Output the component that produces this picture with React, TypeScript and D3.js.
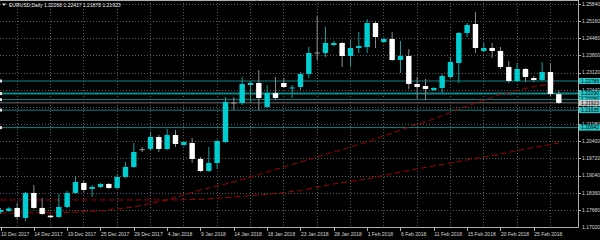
import React from "react";
import * as d3 from "d3";

const titleText = "EURUSD,Daily  1.22268 1.22417 1.21878 1.21923";

const opens = [
  1.176, 1.1764, 1.17759, 1.17363, 1.18353, 1.17759, 1.17454, 1.17402, 1.17798, 1.18353,
  1.18749, 1.18511, 1.18591, 1.18709, 1.18551, 1.18987, 1.19383, 1.20066, 1.20096, 1.20571,
  1.20096, 1.2065, 1.20254, 1.20333, 1.197, 1.19224, 1.19541, 1.20373, 1.21918, 1.21918,
  1.22631, 1.2271, 1.2176, 1.22314, 1.2271, 1.22492, 1.22552, 1.23067, 1.23899, 1.23899,
  1.24215, 1.24295, 1.2378, 1.24097, 1.24136, 1.25087, 1.24334, 1.24453, 1.23621, 1.2378,
  1.22671, 1.22591, 1.22433, 1.22512, 1.22948, 1.23502, 1.24691, 1.25047, 1.23978, 1.24097,
  1.23978, 1.23344, 1.22789, 1.23265, 1.22908, 1.22829, 1.23146, 1.22268,
];
const highs = [
  1.17759, 1.17798, 1.17957, 1.18392, 1.1867, 1.18155, 1.17481, 1.18313, 1.18432, 1.19026,
  1.18828, 1.1867, 1.18749, 1.18749, 1.19066, 1.19581, 1.20333, 1.20175, 1.20769, 1.2065,
  1.20888, 1.20848, 1.20413, 1.20532, 1.19779, 1.20175, 1.20452, 1.22156, 1.22156, 1.22948,
  1.2275, 1.23225, 1.22631, 1.22948, 1.22908, 1.22631, 1.23146, 1.24136, 1.25364, 1.24928,
  1.24374, 1.24334, 1.24414, 1.2473, 1.25245, 1.25166, 1.24493, 1.2473, 1.24374, 1.24057,
  1.22948, 1.22869, 1.22552, 1.23067, 1.2374, 1.2473, 1.25087, 1.25523, 1.24295, 1.24295,
  1.24136, 1.23582, 1.23502, 1.23304, 1.22987, 1.23542, 1.23502, 1.22417,
];
const lows = [
  1.17521, 1.176, 1.17323, 1.17244, 1.17719, 1.17481, 1.17363, 1.17363, 1.17759, 1.18313,
  1.18392, 1.18194, 1.18551, 1.18511, 1.18511, 1.18947, 1.19343, 1.19977, 1.20056, 1.19977,
  1.20056, 1.20175, 1.20215, 1.19541, 1.19185, 1.19185, 1.19304, 1.20333, 1.21641, 1.21839,
  1.21958, 1.21641, 1.2172, 1.22037, 1.22512, 1.22116, 1.22433, 1.22908, 1.23621, 1.2374,
  1.24176, 1.23344, 1.23344, 1.23899, 1.23899, 1.24097, 1.24295, 1.23582, 1.23106, 1.22473,
  1.22076, 1.22037, 1.22393, 1.22314, 1.22908, 1.2271, 1.24532, 1.23899, 1.23938, 1.23701,
  1.23265, 1.2271, 1.2275, 1.2275, 1.2275, 1.22789, 1.22195, 1.21878,
];
const closes = [
  1.17679, 1.17739, 1.17402, 1.18353, 1.17759, 1.17521, 1.1739, 1.17798, 1.18353, 1.18789,
  1.18472, 1.18591, 1.18709, 1.18551, 1.18987, 1.19383, 1.19977, 1.20066, 1.20571, 1.20096,
  1.2065, 1.20294, 1.20373, 1.197, 1.19224, 1.19541, 1.20413, 1.21958, 1.21918, 1.22671,
  1.2271, 1.22116, 1.22314, 1.22116, 1.22552, 1.22532, 1.23067, 1.23899, 1.23899, 1.24295,
  1.24295, 1.2378, 1.24097, 1.24176, 1.25087, 1.24532, 1.24453, 1.23621, 1.2378, 1.22671,
  1.22552, 1.22473, 1.22512, 1.22987, 1.23542, 1.24691, 1.25008, 1.24097, 1.24097, 1.23978,
  1.23344, 1.22789, 1.23265, 1.22948, 1.22829, 1.23146, 1.22274, 1.21923,
];

const dateLabels = [
  "10 Dec 2017", "14 Dec 2017", "19 Dec 2017", "25 Dec 2017", "29 Dec 2017", "4 Jan 2018",
  "9 Jan 2018", "14 Jan 2018", "18 Jan 2018", "23 Jan 2018", "28 Jan 2018", "1 Feb 2018",
  "6 Feb 2018", "11 Feb 2018", "15 Feb 2018", "20 Feb 2018", "25 Feb 2018",
];

const priceTicks = [
  1.2584, 1.2516, 1.2448, 1.238, 1.2312, 1.2244, 1.2176, 1.2108, 1.204, 1.1972, 1.1904, 1.1836, 1.1768,
];
const bottomPrice = 1.1702;

const maIndex = [0, 4, 8, 12, 16, 20, 24, 28, 32, 36, 40, 44, 48, 52, 56, 60, 64, 67];
const fastMa = [
  1.17561, 1.17561, 1.1758, 1.1764, 1.17798, 1.18076, 1.18472, 1.18789, 1.19185, 1.19581,
  1.19977, 1.20373, 1.20848, 1.21284, 1.21799, 1.22255, 1.22572, 1.2271,
];
const slowMa = [
  1.18076, 1.18076, 1.18076, 1.18076, 1.18076, 1.18076, 1.18095, 1.18194, 1.18293, 1.18452,
  1.18709, 1.18907, 1.19185, 1.19422, 1.1966, 1.19898, 1.20155, 1.20333,
];

const levels = [1.22789, 1.2229, 1.2205, 1.21635, 1.20942];
const levelLabels = ["1.22789", "1.22290", "1.22050", "1.21635", "1.20942"];
const bidPrice = 1.21923;

const FONT = "'Liberation Sans', Arial, sans-serif";

export default function App() {
  const W = 600;
  const H = 240;
  const plotRight = 578;
  const plotBottom = 227;
  const x = d3.scaleLinear().domain([0, opens.length - 1]).range([0.5, 558.8]);
  const y = d3.scaleLinear().domain([bottomPrice, 1.2584]).range([226.6, 4]);
  const bodyW = 5.4;
  const bull = "#00CED1";
  const bear = "#FFFFFF";
  const grid = "#5e5e5e";
  const lineTeal = "#0d8585";

  const maLine = d3
    .line<number>()
    .x((_, k) => x(maIndex[k]))
    .y((v) => y(v));

  const vGrid = dateLabels.map((_, k) => x(2 + 4 * k) - 0.5);

  return (
    <div style={{ position: "absolute", left: 0, top: 0, width: W, height: H, background: "#000" }}>
      <svg width={W} height={H} style={{ display: "block", background: "#000" }}>
        {/* grid */}
        {priceTicks.map((p) => (
          <line key={"hg" + p} x1={0} x2={plotRight} y1={Math.round(y(p)) + 0.5} y2={Math.round(y(p)) + 0.5}
            stroke={grid} strokeDasharray="1 2" strokeWidth={1} />
        ))}
        {vGrid.map((gx, k) => (
          <line key={"vg" + k} x1={Math.round(gx) + 0.5} x2={Math.round(gx) + 0.5} y1={0} y2={plotBottom}
            stroke={grid} strokeDasharray="1 2" strokeWidth={1} />
        ))}

        {/* horizontal levels */}
        {levels.map((p, k) => (
          <line key={"lv" + k} x1={0} x2={plotRight} y1={y(p)} y2={y(p)} stroke={lineTeal}
            strokeWidth={k === 1 ? 2 : 1} />
        ))}
        <line x1={0} x2={plotRight} y1={y(bidPrice)} y2={y(bidPrice)} stroke="#6f6f6f" strokeWidth={1} />

        {/* moving averages */}
        <path d={maLine(slowMa) || ""} fill="none" stroke="#a00000" strokeWidth={1} strokeDasharray="6 3" />
        <path d={maLine(fastMa) || ""} fill="none" stroke="#a00000" strokeWidth={1} strokeDasharray="6 3" />

        {/* candles */}
        {opens.map((o, i) => {
          const c = closes[i];
          const cx = x(i);
          const up = c > o;
          const doji = Math.abs(c - o) < 0.00001;
          const wickColor = up ? "#1c9c9c" : "#8c8c8c";
          const top = y(Math.max(o, c));
          const bot = y(Math.min(o, c));
          return (
            <g key={"c" + i}>
              <line x1={cx} x2={cx} y1={y(highs[i])} y2={y(lows[i])} stroke={wickColor} strokeWidth={1} />
              {doji ? (
                <line x1={cx - bodyW / 2} x2={cx + bodyW / 2} y1={top} y2={top} stroke="#a0a0a0" strokeWidth={1} />
              ) : (
                <rect x={cx - bodyW / 2} y={top} width={bodyW} height={Math.max(1, bot - top)}
                  fill={up ? bull : bear} />
              )}
            </g>
          );
        })}

        {/* left / right anchors for levels */}
        {levels.map((p, k) => (
          <g key={"an" + k}>
            <rect x={0} y={y(p) - 1.5} width={2} height={3} fill="#e0e0e0" />
            <rect x={plotRight} y={y(p) - 1.5} width={2} height={3} fill="#e0e0e0" />
          </g>
        ))}

        {/* frame */}
        <line x1={0} x2={plotRight} y1={0.5} y2={0.5} stroke="#b0b0b0" strokeWidth={1} />
        <line x1={plotRight + 0.5} x2={plotRight + 0.5} y1={0} y2={plotBottom + 0.5} stroke="#b0b0b0" strokeWidth={1} />
        <line x1={0} x2={plotRight + 0.5} y1={plotBottom + 0.5} y2={plotBottom + 0.5} stroke="#b0b0b0" strokeWidth={1} />

        {/* price axis labels */}
        {priceTicks.map((p) => (
          <g key={"pl" + p}>
            <line x1={plotRight} x2={plotRight + 3} y1={Math.round(y(p)) + 0.5} y2={Math.round(y(p)) + 0.5} stroke="#b0b0b0" />
            <text x={582} y={y(p) + 1.8} fill="#d8d8d8" fontSize={5} fontFamily={FONT}>
              {p.toFixed(5)}
            </text>
          </g>
        ))}
        <text x={582} y={plotBottom + 1.8} fill="#d8d8d8" fontSize={5} fontFamily={FONT}>
          {bottomPrice.toFixed(5)}
        </text>

        {/* level labels */}
        {levels.map((p, k) => (
          <g key={"ll" + k}>
            <rect x={579} y={y(p) - 3} width={21} height={6} fill="#20c8c8" />
            <text x={581} y={y(p) + 1.8} fill="#000" fontSize={5} fontFamily={FONT}>
              {levelLabels[k]}
            </text>
          </g>
        ))}
        <rect x={579} y={y(bidPrice) - 3} width={21} height={6} fill="#c8c8c8" />
        <text x={581} y={y(bidPrice) + 1.8} fill="#000" fontSize={5} fontFamily={FONT}>
          {bidPrice.toFixed(5)}
        </text>

        {/* date axis */}
        {dateLabels.map((lab, k) => {
          const tx = x(4 * k);
          return (
            <g key={"dl" + lab}>
              <line x1={Math.round(tx) + 0.5} x2={Math.round(tx) + 0.5} y1={plotBottom} y2={plotBottom + 4} stroke="#b0b0b0" />
              <text x={Math.max(0, tx + 0.5)} y={236} fill="#d8d8d8" fontSize={5} fontFamily={FONT}>
                {lab}
              </text>
            </g>
          );
        })}

        {/* title */}
        <path d="M2,3.5 L6,3.5 L4,6 Z" fill="#e0e0e0" />
        <text x={9} y={6.5} fill="#e8e8e8" fontSize={5} fontFamily={FONT}>
          {titleText}
        </text>
      </svg>
    </div>
  );
}
